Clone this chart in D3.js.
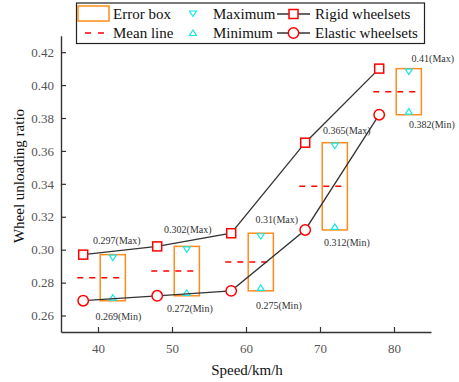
<!DOCTYPE html>
<html>
<head>
<meta charset="utf-8">
<script src="https://cdn.jsdelivr.net/npm/d3@7"></script>
<style>
  html, body { margin: 0; padding: 0; background: #fff; }
  svg { display: block; }
  text { font-family: "Liberation Serif", "Times New Roman", serif; }
</style>
</head>
<body>
<svg id="chart" width="459" height="382"></svg>
<script>
// Speeds at which each wheelset was measured
const rigidSpeeds = [38, 48, 58, 68, 78];
const elasticSpeeds = [38, 48, 58, 68, 78];
const rigidValues = [0.297, 0.302, 0.31, 0.365, 0.41];
const elasticValues = [0.269, 0.272, 0.275, 0.312, 0.382];

// Error boxes (span between the two wheelsets at each speed)
const boxSpeeds = [42, 52, 62, 72, 82];
const boxMax = [0.297, 0.302, 0.31, 0.365, 0.41];
const boxMin = [0.269, 0.272, 0.275, 0.312, 0.382];

const xTicks = [40, 50, 60, 70, 80];
const yTicks = [0.26, 0.28, 0.30, 0.32, 0.34, 0.36, 0.38, 0.40, 0.42];

// Annotation offsets (px) for the max / min value labels
const maxLabelOffset = [[4, -10.5], [1, -13.5], [16, -10], [12, -9], [24, -6.5]];
const minLabelOffset = [[5.5, 19], [3, 16], [18, 18], [12, 16], [23, 13]];

const svg = d3.select("#chart");
const x = d3.scaleLinear().domain([35, 85]).range([61, 431]);
const y = d3.scaleLinear().domain([0.25, 0.43]).range([332, 35.7]);

const axisColor = "#333";
const orange = "#ff8c1a";
const cyan = "#19e5e5";
const red = "#ff0000";

// Axes (ticks pointing inward)
const xAxis = svg.append("g").attr("transform", `translate(0,${y(0.25)})`)
  .call(d3.axisBottom(x).tickValues(xTicks).tickSizeInner(-5).tickSizeOuter(0).tickPadding(12)
    .tickFormat(d3.format("d")));
const yAxis = svg.append("g").attr("transform", `translate(${x(35)},0)`)
  .call(d3.axisLeft(y).tickValues(yTicks).tickSizeInner(-5).tickSizeOuter(0).tickPadding(7)
    .tickFormat(d3.format(".2f")));
[xAxis, yAxis].forEach(g => {
  g.select(".domain").attr("stroke", axisColor).attr("stroke-width", 1.4);
  g.selectAll(".tick line").attr("stroke", axisColor).attr("stroke-width", 1.2);
  g.selectAll(".tick text").attr("fill", "#555").attr("font-size", 13)
    .attr("font-family", "'Liberation Serif', serif");
});

// Axis titles
svg.append("text").attr("x", 247).attr("y", 375).attr("text-anchor", "middle")
  .attr("font-size", 15).attr("fill", "#111").text("Speed/km/h");
svg.append("text").attr("transform", "translate(24,176) rotate(-90)")
  .attr("text-anchor", "middle").attr("font-size", 15).attr("fill", "#111")
  .text("Wheel unloading ratio");

const boxHalf = 1.7;
const boxes = boxSpeeds.map((s, i) => ({ s, max: boxMax[i], min: boxMin[i], mean: (boxMax[i] + boxMin[i]) / 2 }));

// Error boxes
svg.append("g").selectAll("rect").data(boxes).join("rect")
  .attr("x", d => x(d.s - boxHalf)).attr("y", d => y(d.max))
  .attr("width", d => x(d.s + boxHalf) - x(d.s - boxHalf))
  .attr("height", d => y(d.min) - y(d.max))
  .attr("fill", "none").attr("stroke", orange).attr("stroke-width", 1.5);

// Mean lines
svg.append("g").selectAll("line").data(boxes).join("line")
  .attr("x1", d => x(d.s - 4.8)).attr("x2", d => x(d.s + boxHalf))
  .attr("y1", d => y(d.mean)).attr("y2", d => y(d.mean))
  .attr("stroke", red).attr("stroke-width", 1.5).attr("stroke-dasharray", "6,6");

// Max / min triangles resting on the box edges
const tri = (cx, yb, dir) => {
  const w = 3.5, h = 5.5;
  return dir === "down"
    ? `M${cx - w},${yb}L${cx + w},${yb}L${cx},${yb + h}Z`
    : `M${cx - w},${yb}L${cx + w},${yb}L${cx},${yb - h}Z`;
};
svg.append("g").selectAll("path").data(boxes).join("path")
  .attr("d", d => tri(x(d.s), y(d.max) + 0.5, "down"))
  .attr("fill", "#fff").attr("stroke", cyan).attr("stroke-width", 1.2);
svg.append("g").selectAll("path").data(boxes).join("path")
  .attr("d", d => tri(x(d.s), y(d.min) - 0.5, "up"))
  .attr("fill", "#fff").attr("stroke", cyan).attr("stroke-width", 1.2);

// Value labels
svg.append("g").selectAll("text").data(boxes).join("text")
  .attr("x", (d, i) => x(d.s) + maxLabelOffset[i][0])
  .attr("y", (d, i) => y(d.max) + maxLabelOffset[i][1])
  .attr("text-anchor", "middle").attr("font-size", 10).attr("fill", "#333")
  .text(d => `${d.max}(Max)`);
svg.append("g").selectAll("text").data(boxes).join("text")
  .attr("x", (d, i) => x(d.s) + minLabelOffset[i][0])
  .attr("y", (d, i) => y(d.min) + minLabelOffset[i][1])
  .attr("text-anchor", "middle").attr("font-size", 10).attr("fill", "#333")
  .text(d => `${d.min}(Min)`);

// Series lines
const line = d3.line().x(d => x(d[0])).y(d => y(d[1]));
const rigid = rigidSpeeds.map((s, i) => [s, rigidValues[i]]);
const elastic = elasticSpeeds.map((s, i) => [s, elasticValues[i]]);
[rigid, elastic].forEach(data => {
  svg.append("path").datum(data).attr("d", line)
    .attr("fill", "none").attr("stroke", "#333").attr("stroke-width", 1.3);
});

// Markers
const sq = 9;
svg.append("g").selectAll("rect").data(rigid).join("rect")
  .attr("x", d => x(d[0]) - sq / 2).attr("y", d => y(d[1]) - sq / 2)
  .attr("width", sq).attr("height", sq)
  .attr("fill", "#fff").attr("stroke", red).attr("stroke-width", 1.5);
svg.append("g").selectAll("circle").data(elastic).join("circle")
  .attr("cx", d => x(d[0])).attr("cy", d => y(d[1])).attr("r", 5.2)
  .attr("fill", "#fff").attr("stroke", red).attr("stroke-width", 1.5);

// Legend
const lg = svg.append("g");
lg.append("rect").attr("x", 76.5).attr("y", 3).attr("width", 348).attr("height", 40.5)
  .attr("fill", "#fff").attr("stroke", "#222").attr("stroke-width", 1.2);
const r1 = 14, r2 = 33;
lg.append("rect").attr("x", 78).attr("y", 6).attr("width", 31).attr("height", 15)
  .attr("fill", "none").attr("stroke", orange).attr("stroke-width", 1.5);
lg.append("line").attr("x1", 85).attr("x2", 104).attr("y1", r2).attr("y2", r2)
  .attr("stroke", red).attr("stroke-width", 1.5).attr("stroke-dasharray", "6,7");
lg.append("path").attr("d", tri(193, r1 - 3, "down"))
  .attr("fill", "#fff").attr("stroke", cyan).attr("stroke-width", 1.2);
lg.append("path").attr("d", tri(193, r2 + 2.5, "up"))
  .attr("fill", "#fff").attr("stroke", cyan).attr("stroke-width", 1.2);
lg.append("line").attr("x1", 277).attr("x2", 310).attr("y1", r1).attr("y2", r1)
  .attr("stroke", "#333").attr("stroke-width", 1.3);
lg.append("rect").attr("x", 293.5 - sq / 2).attr("y", r1 - sq / 2).attr("width", sq).attr("height", sq)
  .attr("fill", "#fff").attr("stroke", red).attr("stroke-width", 1.5);
lg.append("line").attr("x1", 277).attr("x2", 310).attr("y1", r2).attr("y2", r2)
  .attr("stroke", "#333").attr("stroke-width", 1.3);
lg.append("circle").attr("cx", 293.5).attr("cy", r2).attr("r", 5.2)
  .attr("fill", "#fff").attr("stroke", red).attr("stroke-width", 1.5);
const legendText = [
  ["Error box", 113, r1], ["Mean line", 113, r2],
  ["Maximum", 213, r1], ["Minimum", 213, r2],
  ["Rigid wheelsets", 315, r1], ["Elastic wheelsets", 315, r2]
];
lg.selectAll("text.lt").data(legendText).join("text").attr("class", "lt")
  .attr("x", d => d[1]).attr("y", d => d[2] + 5).attr("font-size", 15).attr("fill", "#111")
  .text(d => d[0]);
</script>
</body>
</html>
